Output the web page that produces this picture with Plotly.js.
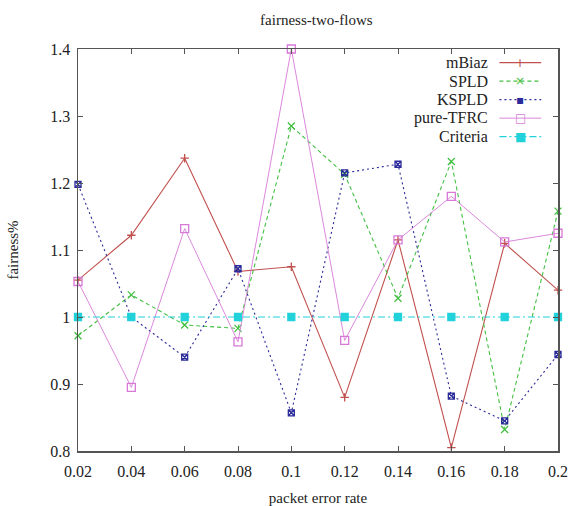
<!DOCTYPE html>
<html>
<head>
<meta charset="utf-8">
<script src="https://cdn.plot.ly/plotly-3.0.1.min.js"></script>
<style>html,body{margin:0;padding:0;background:#fff;}#chart{width:570px;height:506px;}</style>
</head>
<body>
<div id="chart"></div>
<script>
const packetErrorRate = [0.02, 0.04, 0.06, 0.08, 0.10, 0.12, 0.14, 0.16, 0.18, 0.20];
const mBiaz     = [1.055, 1.122, 1.237, 1.068, 1.075, 0.880, 1.115, 0.805, 1.110, 1.040];
const SPLD      = [0.972, 1.033, 0.988, 0.983, 1.285, 1.213, 1.028, 1.232, 0.832, 1.158];
const KSPLD     = [1.198, 1.000, 0.940, 1.072, 0.857, 1.215, 1.228, 0.882, 0.845, 0.944];
const pureTFRC  = [1.053, 0.895, 1.132, 0.963, 1.400, 0.965, 1.115, 1.180, 1.112, 1.125];
const criteria  = [1.000, 1.000, 1.000, 1.000, 1.000, 1.000, 1.000, 1.000, 1.000, 1.000];
const seriesNames = ['mBiaz', 'SPLD', 'KSPLD', 'pure-TFRC', 'Criteria'];
const xTickVals = [0.02, 0.04, 0.06, 0.08, 0.10, 0.12, 0.14, 0.16, 0.18, 0.20];
const yTickVals = [0.8, 0.9, 1.0, 1.1, 1.2, 1.3, 1.4];

const values = [mBiaz, SPLD, KSPLD, pureTFRC, criteria];
const colors = ['#c0504d', '#44c044', '#2a2a9a', '#d77ad7', '#22d2da'];
const dashes = ['solid', '4px,3px', '2px,3px', 'solid', '7px,3px,2px,3px'];
const widths = [1.1, 1.1, 1.1, 0.9, 1.1];
const symbols = ['cross-thin-open', 'x-thin-open', 'square-x-open', 'square-open', 'square'];
const sizes = [6, 7, 6, 8, 7];
const glyphs = ['+', '×', '▪', '□', '■'];

const SERIF = '"Liberation Serif", "DejaVu Serif", serif';

const traces = values.map((v, i) => ({
  x: packetErrorRate, y: v, type: 'scatter', mode: 'lines+markers', name: seriesNames[i],
  line: {color: colors[i], dash: dashes[i], width: widths[i]},
  marker: {symbol: symbols[i], size: sizes[i], color: colors[i], line: {color: colors[i], width: 1.3}},
  cliponaxis: false, showlegend: false
}));

// custom gnuplot-style legend: text right-aligned, sample to the right
const annotations = [];
const shapes = [];
const legTop = 0.966, legStep = 0.046;
seriesNames.forEach((n, i) => {
  const y = legTop - i * legStep;
  annotations.push({xref: 'paper', yref: 'paper', x: 0.859, y: y, xanchor: 'right', yanchor: 'middle',
    text: n, showarrow: false, font: {family: SERIF, size: 16, color: '#222'}});
  shapes.push({type: 'line', xref: 'paper', yref: 'paper', x0: 0.878, x1: 0.965, y0: y, y1: y,
    line: {color: colors[i], dash: dashes[i], width: widths[i]}});
  annotations.push({xref: 'paper', yref: 'paper', x: 0.9215, y: y, xanchor: 'center', yanchor: 'middle',
    text: glyphs[i], showarrow: false, font: {family: 'DejaVu Sans', size: 12, color: colors[i]}});
});

const layout = {
  width: 570, height: 506,
  margin: {l: 78, r: 12, t: 49, b: 55},
  paper_bgcolor: '#fff', plot_bgcolor: '#fff',
  title: {text: 'fairness-two-flows', x: 0.555, xanchor: 'center', y: 0.961, yanchor: 'middle',
          font: {family: SERIF, size: 15, color: '#222'}},
  xaxis: {range: [0.02, 0.2], tickvals: xTickVals, ticktext: xTickVals.map(v => String(+v.toFixed(2))),
          showgrid: false, zeroline: false, showline: true, linecolor: '#555', linewidth: 1.5,
          mirror: 'ticks', ticks: 'inside', ticklen: 5, tickcolor: '#555', ticklabelstandoff: 5,
          tickfont: {family: SERIF, size: 16, color: '#222'},
          title: {text: 'packet error rate', font: {family: SERIF, size: 15, color: '#222'}, standoff: 16}},
  yaxis: {range: [0.8, 1.4], tickvals: yTickVals, ticktext: yTickVals.map(v => String(+v.toFixed(1))),
          showgrid: false, zeroline: false, showline: true, linecolor: '#555', linewidth: 1.5,
          mirror: 'ticks', ticks: 'inside', ticklen: 5, tickcolor: '#555', ticklabelstandoff: 3,
          tickfont: {family: SERIF, size: 16, color: '#222'},
          title: {text: 'fairness%', font: {family: SERIF, size: 15, color: '#222'}, standoff: 28}},
  showlegend: false,
  annotations: annotations,
  shapes: shapes
};

Plotly.newPlot('chart', traces, layout, {staticPlot: true, displayModeBar: false});
</script>
</body>
</html>
